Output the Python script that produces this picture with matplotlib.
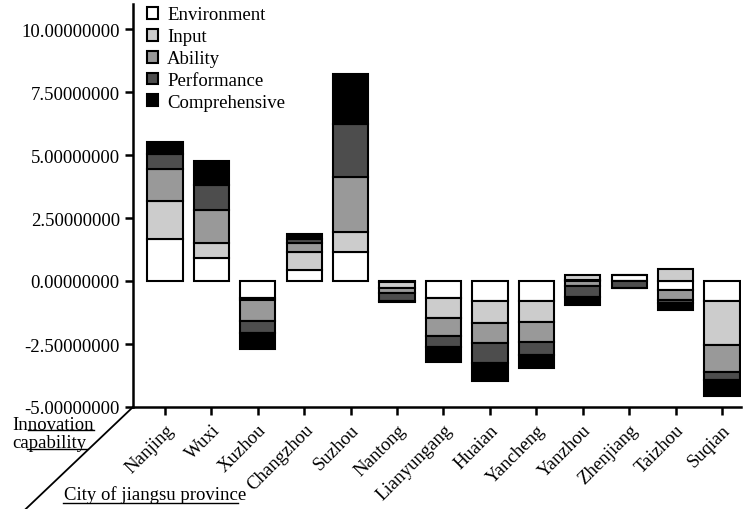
import matplotlib
matplotlib.use('Agg')
import matplotlib.pyplot as plt
from matplotlib.lines import Line2D
from matplotlib.patches import Patch
import numpy as np

cities = ['Nanjing', 'Wuxi', 'Xuzhou', 'Changzhou', 'Suzhou', 'Nantong',
          'Lianyungang', 'Huaian', 'Yancheng', 'Yanzhou', 'Zhenjiang',
          'Taizhou', 'Suqian']
series_names = ['Environment', 'Input', 'Ability', 'Performance', 'Comprehensive']
environment = [1.68, 0.93, -0.69, 0.44, 1.17, -0.02, -0.69, -0.79, -0.79, 0.03, 0.23, -0.36, -0.79]
input_ = [1.49, 0.57, -0.07, 0.73, 0.78, -0.26, -0.79, -0.86, -0.82, 0.22, 0.0, 0.46, -1.76]
ability = [1.29, 1.31, -0.82, 0.33, 2.16, -0.20, -0.71, -0.82, -0.83, -0.20, -0.01, -0.40, -1.06]
performance = [0.56, 0.99, -0.50, 0.15, 2.14, -0.33, -0.41, -0.79, -0.49, -0.42, -0.26, -0.10, -0.32]
comprehensive = [0.50, 0.96, -0.63, 0.20, 1.96, -0.03, -0.60, -0.70, -0.54, -0.33, -0.02, -0.29, -0.63]
colors = ['#ffffff', '#cccccc', '#999999', '#4d4d4d', '#000000']

plt.rcParams['font.family'] = ['Liberation Serif', 'DejaVu Serif']
fs = 13.5

W, H = 743, 510
fig = plt.figure(figsize=(W / 100, H / 100), dpi=100)
ax = fig.add_axes([133 / W, 1 - 408 / H, (741 - 133) / W, (408 - 4.8) / H])

x = np.arange(len(cities))
pos_base = np.zeros(len(cities))
neg_base = np.zeros(len(cities))
for name, vals, c in zip(series_names,
                         [environment, input_, ability, performance, comprehensive],
                         colors):
    v = np.asarray(vals)
    bottom = np.where(v >= 0, pos_base, neg_base)
    ax.bar(x, v, width=0.76, bottom=bottom, color=c, edgecolor='black',
           linewidth=1.5, label=name)
    pos_base += np.where(v >= 0, v, 0)
    neg_base += np.where(v < 0, v, 0)

ax.set_xlim(-0.69, 12.41)
ax.set_ylim(-5, 11)
ax.set_yticks(np.arange(-5, 10.1, 2.5))
ax.set_yticklabels(['%.8f' % t for t in np.arange(-5, 10.1, 2.5)], fontsize=fs)
ax.set_xticks(x)
ax.set_xticklabels(cities, rotation=45, ha='right', rotation_mode='anchor',
                   fontsize=fs)
ax.tick_params(axis='both', direction='out', length=6, width=1.8, color='black')
ax.tick_params(axis='x', pad=4)
for s in ['top', 'right']:
    ax.spines[s].set_visible(False)
for s in ['left', 'bottom']:
    ax.spines[s].set_linewidth(1.8)

handles = [Patch(facecolor=c, edgecolor='black', linewidth=1.5) for c in colors]
ax.legend(handles, series_names, loc='upper left', frameon=False, fontsize=fs,
          handlelength=0.6, handleheight=0.6, handletextpad=0.5,
          labelspacing=0.26, borderaxespad=0.0, bbox_to_anchor=(0.01, 1.012))

def px(xp, yp):
    return xp / W, 1 - yp / H

# diagonal corner line
x0, y0 = px(133, 408)
x1, y1 = px(10, 525)
fig.add_artist(Line2D([x0, x1], [y0, y1], color='black', linewidth=1.3))

fig.text(*px(12, 425), 'Innovation', fontsize=fs, va='center', ha='left')
fig.text(*px(12, 444), 'capability', fontsize=fs, va='center', ha='left')
fig.text(*px(64, 495), 'City of jiangsu province', fontsize=fs, va='center', ha='left')
for (xa, xb, yy) in [(28, 94, 431), (27, 87, 450), (63, 238, 504)]:
    a = px(xa, yy)
    b = px(xb, yy)
    fig.add_artist(Line2D([a[0], b[0]], [a[1], b[1]], color='black', linewidth=1.0))

fig.savefig('out.png', dpi=100)
